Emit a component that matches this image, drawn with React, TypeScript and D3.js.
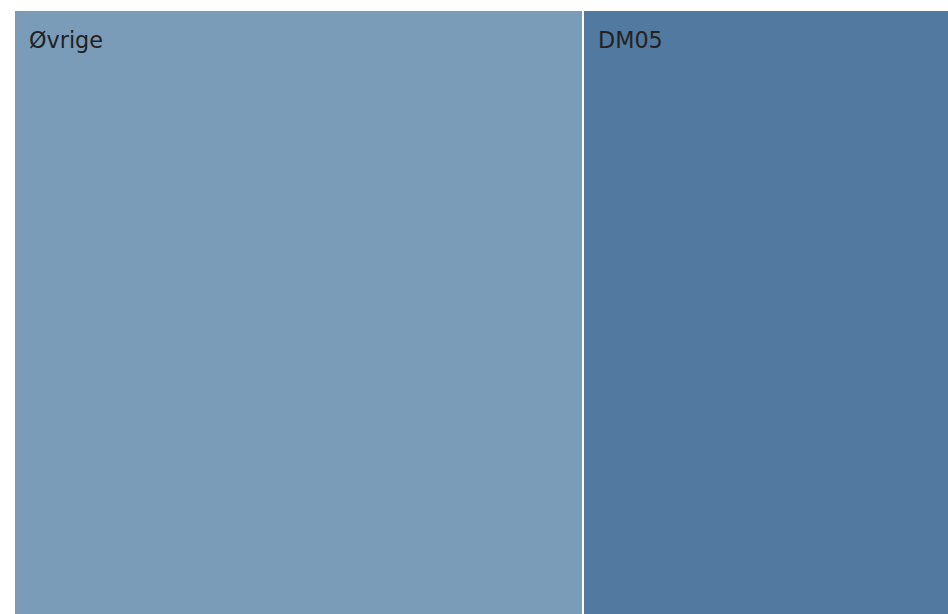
import React from "react";
import * as d3 from "d3";

const categories = ["Øvrige", "DM05"];
const values = [60, 40];
const colors = ["#7a9cb8", "#52799f"];

export default function App() {
  const W = 946.3;
  const H = 700;
  const offX = 7;
  const offY = 3;
  const root = d3
    .hierarchy({ name: "root", children: categories.map((c, i) => ({ name: c, value: values[i] })) } as any)
    .sum((d: any) => d.value || 0);
  d3.treemap().tile(d3.treemapDice).size([W, H]).paddingInner(2)(root as any);
  const leaves = root.leaves() as any[];
  return (
    <svg
      width={940}
      height={606}
      style={{ display: "block", overflow: "hidden", position: "fixed", left: 8, top: 8 }}
    >
      <g transform={`translate(${offX},${offY})`}>
        {leaves.map((d, i) => (
          <g key={i} transform={`translate(${d.x0},${d.y0})`}>
            <rect width={d.x1 - d.x0} height={d.y1 - d.y0} fill={colors[i]} />
            <text x={14} y={36.5} fontFamily="DejaVu Sans" fontSize={22.3} fill="#222">
              {d.data.name}
            </text>
          </g>
        ))}
      </g>
    </svg>
  );
}
